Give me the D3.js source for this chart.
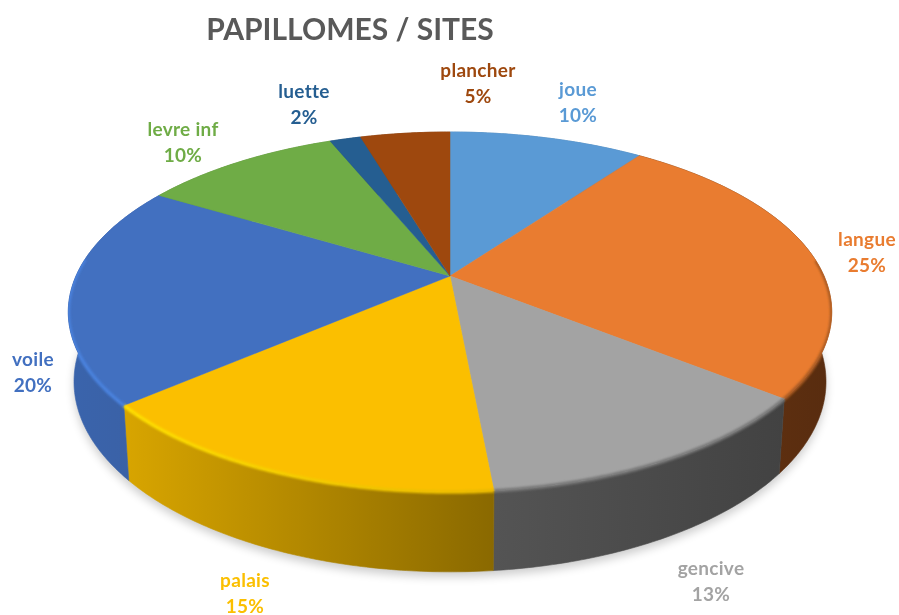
<!DOCTYPE html>
<html><head><meta charset="utf-8">
<script src="https://cdnjs.cloudflare.com/ajax/libs/d3/7.8.5/d3.min.js"></script>
<style>html,body{margin:0;background:#fff}svg{display:block;filter:blur(.6px)}text{font-family:Lato,"Open Sans",sans-serif;font-weight:700;text-anchor:middle}</style>
</head><body><svg id="c" width="899" height="615"></svg>
<script>
const titleText = "PAPILLOMES / SITES";
const categories = ["joue","langue","gencive","palais","voile","levre inf","luette","plancher"];
const values = [10,25.7,12.8,15.2,19.9,10.2,1.6,4.6];
const percentLabels = ["10%","25%","13%","15%","20%","10%","2%","5%"];
const colors = ["#5a9ad5","#e97c30","#a3a3a3","#fbbf00","#4270c0","#6fac46","#255e91","#9e480e"];
const bevelColors = ["#5a9ad5","#a85a24","#777777","#ffe000","#4a82de","#6fac46","#255e91","#9e480e"];
const wallLeft = ["#4a80b0","#6a3612","#545454","#d8a500","#3a64ac","#5a8c38","#1e4c76","#7e390b"];
const wallRight = ["#4a80b0","#582c0f","#424242","#8a6900","#3a60a4","#5a8c38","#1e4c76","#7e390b"];
const labelX = [578,867,711,245,33,183,304,478];
const labelY = [95,245,574,586,365,135,97,76];

const svg = d3.select("#c"), defs = svg.append("defs");
const cx = 450, k = 0.2;
const xS = d3.scaleLinear().domain([-1,1]).range([cx-374,cx+374]);
const yTop = d3.scaleLinear().domain([-1,1]).range([276+172.8,276-172.8]);
const yBot = d3.scaleLinear().domain([-1,1]).range([343.6+182.6,343.6-182.6]);
const xBot = d3.scaleLinear().domain([-1,1]).range([cx-368.4,cx+368.4]);
function pt(a,r,xs,ys){const u=r*Math.sin(a),v=r*Math.cos(a),w=1+k*v;return [xs(u/w),ys(v/w)];}
const rimTop = (a,r=1)=>pt(a,r,xS,yTop);
const rimBot = (a,r=1)=>pt(a,r,xBot,yBot);
const line = d3.line();
const arcs = d3.pie().sort(null).value(d=>d)(values);
const samples = d => { const n=Math.max(4,Math.ceil((d.endAngle-d.startAngle)*90));
  return d3.range(n+1).map(i=>d.startAngle+(d.endAngle-d.startAngle)*i/n); };

const blur = defs.append("filter").attr("id","soft").attr("x","-10%").attr("y","-10%").attr("width","120%").attr("height","120%");
blur.append("feGaussianBlur").attr("stdDeviation",5);
const blur2 = defs.append("filter").attr("id","edge").attr("x","-10%").attr("y","-10%").attr("width","120%").attr("height","120%");
blur2.append("feGaussianBlur").attr("stdDeviation",1.3);

// ground shadow
const fullTurn = d3.range(0,361,2).map(a=>a*Math.PI/180);
svg.append("path").attr("d",line(fullTurn.map(a=>{const p=rimBot(a);return [p[0],p[1]+5];}))+"Z")
  .attr("fill","#000").attr("opacity",.2).attr("filter","url(#soft)");

// walls
const clip = defs.append("clipPath").attr("id","solid");
clip.append("path").attr("d",line(fullTurn.map(a=>rimTop(a)))+"Z");
arcs.forEach((d,i)=>{
  const s = samples(d);
  const xs = s.map(a=>rimTop(a)[0]);
  const id = "wall"+i;
  const g = defs.append("linearGradient").attr("id",id).attr("gradientUnits","userSpaceOnUse")
    .attr("x1",d3.min(xs)).attr("x2",d3.max(xs)).attr("y1",0).attr("y2",0);
  g.append("stop").attr("offset",0).attr("stop-color",wallLeft[i]);
  g.append("stop").attr("offset",1).attr("stop-color",wallRight[i]);
  const poly = s.map(a=>rimTop(a)).concat(s.slice().reverse().map(a=>rimBot(a)));
  const pathD = line(poly)+"Z";
  clip.append("path").attr("d",pathD);
  svg.append("path").attr("d",pathD).attr("fill",`url(#${id})`)
    .attr("stroke",`url(#${id})`).attr("stroke-width",.6);
});

// tops
arcs.forEach((d,i)=>{
  const s = samples(d);
  svg.append("path").attr("d",line([rimTop(0,0)].concat(s.map(a=>rimTop(a))))+"Z")
    .attr("fill",colors[i]).attr("stroke",colors[i]).attr("stroke-width",.5);
});

// bevels along the front rim, kept inside the solid
const bevels = svg.append("g").attr("clip-path","url(#solid)");
arcs.forEach((d,i)=>{
  const s = samples(d).filter(a=>Math.cos(a)<0.1);
  if(s.length<2) return;
  const xs = s.map(a=>rimTop(a)[0]);
  const id = "bev"+i;
  const g = defs.append("linearGradient").attr("id",id).attr("gradientUnits","userSpaceOnUse")
    .attr("x1",d3.min(xs)).attr("x2",d3.max(xs)).attr("y1",0).attr("y2",0);
  g.append("stop").attr("offset",0).attr("stop-color",bevelColors[i]);
  g.append("stop").attr("offset",1).attr("stop-color",i===3?"#e8b800":bevelColors[i]);
  bevels.append("path").attr("d",line(s.map(a=>rimTop(a))))
    .attr("fill","none").attr("stroke",`url(#${id})`).attr("stroke-width",3.5).attr("filter","url(#edge)");
});

// labels
svg.append("text").attr("x",350).attr("y",40).attr("fill","#595959").attr("font-size",30).text(titleText);
categories.forEach((c,i)=>{
  const t = svg.append("text").attr("fill",colors[i]).attr("font-size",19).attr("letter-spacing",.3);
  t.append("tspan").attr("x",labelX[i]).attr("y",labelY[i]+1).text(c);
  t.append("tspan").attr("x",labelX[i]).attr("y",labelY[i]+27).text(percentLabels[i]);
});
</script></body></html>
